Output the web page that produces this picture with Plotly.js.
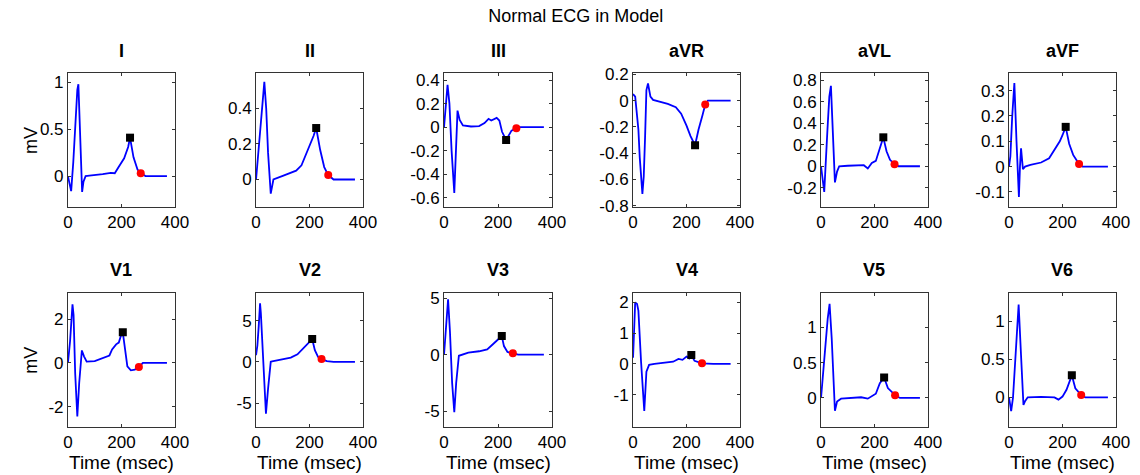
<!DOCTYPE html>
<html>
<head>
<meta charset="utf-8">
<script src="https://cdn.plot.ly/plotly-3.0.1.min.js"></script>
<style>html,body{margin:0;padding:0;background:#fff;}#chart{width:1140px;height:475px;}</style>
</head>
<body>
<div id="chart"></div>
<script>
// ---- Data (time in msec, voltage in mV) ----
const leadNames = ["I", "II", "III", "aVR", "aVL", "aVF", "V1", "V2", "V3", "V4", "V5", "V6"];

const t_I = [0, 5, 12, 20, 30, 35, 39, 45, 53, 58, 66, 80, 100, 130, 160, 175, 190, 210, 225, 232, 245, 260, 272, 290, 330, 370];
const v_I = [0, -0.08, -0.16, 0.15, 0.75, 0.92, 0.98, 0.5, -0.17, -0.06, 0, 0.005, 0.01, 0.02, 0.035, 0.03, 0.1, 0.19, 0.31, 0.41, 0.2, 0.07, 0.03, 0, 0, 0];

const t_II = [0, 10, 20, 31, 38, 45, 55, 60, 65, 100, 150, 170, 195, 215, 225, 240, 255, 270, 290, 330, 370];
const v_II = [0, 0.18, 0.37, 0.55, 0.4, 0.15, -0.08, -0.03, 0, 0.02, 0.05, 0.08, 0.166, 0.245, 0.29, 0.166, 0.07, 0.025, 0, 0, 0];

const t_III = [0, 5, 13, 20, 28, 38, 44, 50, 58, 70, 100, 130, 150, 165, 175, 195, 205, 215, 230, 250, 268, 280, 330, 370];
const v_III = [0, 0.15, 0.36, 0.2, -0.2, -0.56, -0.2, 0.14, 0.06, 0.014, 0.005, 0.008, 0.034, 0.07, 0.056, 0.078, 0.056, -0.04, -0.11, -0.03, -0.01, 0, 0, 0];

const t_aVR = [0, 8, 20, 25, 35, 40, 45, 50, 56, 65, 75, 100, 130, 160, 180, 200, 215, 232, 245, 260, 270, 280, 330, 365];
const v_aVR = [0.05, 0.03, -0.22, -0.43, -0.71, -0.58, -0.28, 0.08, 0.13, 0.03, 0.005, -0.01, -0.025, -0.05, -0.1, -0.19, -0.27, -0.34, -0.22, -0.11, -0.03, 0, 0, 0];

const t_aVL = [0, 12, 24, 31, 37, 44, 52, 60, 68, 100, 160, 175, 190, 205, 220, 233, 245, 258, 275, 290, 330, 370];
const v_aVL = [0, -0.24, 0.34, 0.65, 0.75, 0.34, -0.15, -0.05, 0, 0.005, 0.01, -0.02, 0.03, 0.05, 0.16, 0.27, 0.14, 0.06, 0.02, 0, 0, 0];

const t_aVF = [0, 5, 12, 20, 28, 37, 41, 45, 52, 60, 80, 120, 150, 175, 190, 200, 212, 225, 240, 262, 275, 320, 370];
const v_aVF = [0, 0.04, 0.2, 0.33, 0.1, -0.12, 0, 0.072, -0.01, 0, 0.007, 0.016, 0.033, 0.072, 0.1, 0.124, 0.157, 0.09, 0.046, 0.01, 0, 0, 0];

const t_V1 = [0, 8, 17, 21, 27, 35, 42, 52, 60, 70, 100, 130, 155, 165, 180, 190, 200, 205, 212, 222, 235, 250, 265, 280, 330, 370];
const v_V1 = [0, 1.0, 2.68, 2.2, -0.47, -2.45, -0.93, 0.57, 0.3, 0.06, 0.08, 0.23, 0.34, 0.62, 0.85, 0.93, 1.32, 1.4, 0.78, -0.16, -0.34, -0.31, -0.19, 0, 0, 0];

const t_V2 = [0, 5, 10, 15, 18, 25, 31, 37, 45, 55, 60, 100, 130, 155, 175, 195, 210, 220, 232, 245, 265, 290, 330, 370];
const v_V2 = [0.8, 2.0, 4.3, 7.1, 5.9, 0.8, -3.25, -6.3, -3.25, 0, 0.05, 0.3, 0.5, 0.9, 1.6, 2.36, 2.76, 1.4, 0.6, 0.33, 0.08, 0, 0, 0];

const t_V3 = [0, 5, 15, 22, 30, 38, 45, 55, 65, 90, 130, 160, 180, 200, 214, 222, 235, 255, 275, 320, 370];
const v_V3 = [0, 1.94, 4.9, 2.0, -2.5, -5.1, -2.5, -0.1, 0, 0.18, 0.3, 0.47, 0.9, 1.3, 1.65, 0.76, 0.24, 0.12, 0, 0, 0];

const t_V4 = [0, 3, 8, 15, 20, 30, 42, 50, 60, 80, 120, 150, 170, 185, 200, 210, 218, 230, 258, 300, 365];
const v_V4 = [0.2, 1.2, 2.0, 1.95, 1.73, 0.07, -1.53, -0.25, -0.03, 0, 0.05, 0.07, 0.16, 0.13, 0.24, 0.18, 0.29, 0.1, 0.02, 0, 0];

const t_V5 = [0, 5, 15, 25, 32, 40, 52, 60, 75, 100, 150, 175, 190, 205, 220, 236, 250, 277, 295, 330, 370];
const v_V5 = [0, 0.23, 0.79, 1.12, 1.33, 0.84, -0.18, -0.05, -0.01, 0, 0.01, -0.01, 0.02, 0.06, 0.21, 0.29, 0.14, 0.04, 0, 0, 0];

const t_V6 = [0, 8, 15, 25, 36, 45, 54, 60, 70, 120, 170, 185, 200, 215, 235, 248, 270, 285, 330, 370];
const v_V6 = [0, -0.18, 0, 0.55, 1.22, 0.55, -0.1, -0.05, 0, 0.005, 0, -0.03, 0.01, 0.1, 0.29, 0.12, 0.03, 0, 0, 0];

// T-wave peak (black square) and T-wave end (red dot), in lead order
const peakTime = [232, 225, 230, 232, 233, 212, 205, 210, 214, 218, 236, 235];
const peakVal  = [0.41, 0.29, -0.11, -0.34, 0.27, 0.157, 1.4, 2.76, 1.65, 0.29, 0.29, 0.29];
const endTime  = [272, 270, 268, 270, 275, 262, 265, 245, 255, 258, 277, 270];
const endVal   = [0.03, 0.025, -0.01, -0.03, 0.02, 0.01, -0.19, 0.33, 0.12, 0.02, 0.04, 0.03];

// Tick values and labels
const xTickVals = [0, 200, 400];
const xTickText = ["0", "200", "400"];
const yTickVals = [
  [0, 0.5, 1],
  [0, 0.2, 0.4],
  [-0.6, -0.4, -0.2, 0, 0.2, 0.4],
  [-0.8, -0.6, -0.4, -0.2, 0, 0.2],
  [-0.2, 0, 0.2, 0.4, 0.6, 0.8],
  [-0.1, 0, 0.1, 0.2, 0.3],
  [-2, 0, 2],
  [-5, 0, 5],
  [-5, 0, 5],
  [-1, 0, 1, 2],
  [0, 0.5, 1],
  [0, 0.5, 1]
];
const yTickText = [
  ["0", "0.5", "1"],
  ["0", "0.2", "0.4"],
  ["-0.6", "-0.4", "-0.2", "0", "0.2", "0.4"],
  ["-0.8", "-0.6", "-0.4", "-0.2", "0", "0.2"],
  ["-0.2", "0", "0.2", "0.4", "0.6", "0.8"],
  ["-0.1", "0", "0.1", "0.2", "0.3"],
  ["-2", "0", "2"],
  ["-5", "0", "5"],
  ["-5", "0", "5"],
  ["-1", "0", "1", "2"],
  ["0", "0.5", "1"],
  ["0", "0.5", "1"]
];

const times = [t_I, t_II, t_III, t_aVR, t_aVL, t_aVF, t_V1, t_V2, t_V3, t_V4, t_V5, t_V6];
const volts = [v_I, v_II, v_III, v_aVR, v_aVL, v_aVF, v_V1, v_V2, v_V3, v_V4, v_V5, v_V6];

// ---- Layout settings ----
const yRanges = [
  [-0.33, 1.1], [-0.155, 0.6], [-0.68, 0.46], [-0.81, 0.21], [-0.38, 0.87], [-0.16, 0.37],
  [-2.93, 3.22], [-7.9, 8.4], [-6.4, 5.5], [-2.05, 2.32], [-0.41, 1.49], [-0.39, 1.38]
];
const colDomains = [[0.0596, 0.1535], [0.2246, 0.3184], [0.3895, 0.4842], [0.5553, 0.6491], [0.7202, 0.8140], [0.8851, 0.9789]];
const rowDomains = [[0.5642, 0.8463], [0.1011, 0.3842]];

const FONT = "Liberation Sans, Arial, sans-serif";
const traces = [];
const layout = {
  width: 1140, height: 475,
  margin: {l: 0, r: 0, t: 0, b: 0},
  paper_bgcolor: "#fff", plot_bgcolor: "#fff",
  showlegend: false,
  font: {family: FONT, size: 17, color: "#000"},
  title: {text: "Normal ECG in Model", x: 0.505, xanchor: "center", y: 0.966, yanchor: "middle",
          font: {family: FONT, size: 18, color: "#000"}},
  annotations: []
};

for (let i = 0; i < 12; i++) {
  const row = Math.floor(i / 6), col = i % 6;
  const ax = i === 0 ? "" : String(i + 1);
  const xa = "x" + ax, ya = "y" + ax;
  traces.push({x: times[i], y: volts[i], xaxis: xa, yaxis: ya, type: "scatter", mode: "lines",
               line: {color: "#0000ff", width: 1.8}, hoverinfo: "skip"});
  traces.push({x: [peakTime[i]], y: [peakVal[i]], xaxis: xa, yaxis: ya, type: "scatter", mode: "markers",
               marker: {symbol: "square", color: "#000", size: 8}, hoverinfo: "skip"});
  traces.push({x: [endTime[i]], y: [endVal[i]], xaxis: xa, yaxis: ya, type: "scatter", mode: "markers",
               marker: {symbol: "circle", color: "#ff0000", size: 8}, hoverinfo: "skip"});
  const common = {showgrid: false, zeroline: false, showline: true, linecolor: "#333", linewidth: 1,
                  mirror: "ticks", ticks: "inside", ticklen: 3, tickcolor: "#333",
                  tickfont: {family: FONT, size: 17, color: "#000"}, fixedrange: true};
  layout["xaxis" + ax] = Object.assign({}, common, {
    domain: colDomains[col], range: [0, 400], anchor: ya,
    tickmode: "array", tickvals: xTickVals, ticktext: xTickText
  });
  layout["yaxis" + ax] = Object.assign({}, common, {
    domain: rowDomains[row], range: yRanges[i], anchor: xa,
    tickmode: "array", tickvals: yTickVals[i], ticktext: yTickText[i]
  });
  const cx = (colDomains[col][0] + colDomains[col][1]) / 2;
  layout.annotations.push({text: "<b>" + leadNames[i] + "</b>", xref: "paper", yref: "paper",
    x: cx, y: rowDomains[row][1] + 0.022, xanchor: "center", yanchor: "bottom", showarrow: false,
    font: {family: FONT, size: 18, color: "#000"}});
}
// axis labels
layout.annotations.push({text: "mV", xref: "paper", yref: "paper", x: 0.027, y: 0.705, textangle: -90,
  xanchor: "center", yanchor: "middle", showarrow: false, font: {family: FONT, size: 18, color: "#000"}});
layout.annotations.push({text: "mV", xref: "paper", yref: "paper", x: 0.027, y: 0.242, textangle: -90,
  xanchor: "center", yanchor: "middle", showarrow: false, font: {family: FONT, size: 18, color: "#000"}});
for (let c = 0; c < 6; c++) {
  const cx = (colDomains[c][0] + colDomains[c][1]) / 2;
  layout.annotations.push({text: "Time (msec)", xref: "paper", yref: "paper", x: cx, y: 0.027,
    xanchor: "center", yanchor: "middle", showarrow: false, font: {family: FONT, size: 19, color: "#000"}});
}

Plotly.newPlot("chart", traces, layout, {staticPlot: true, displayModeBar: false});
</script>
</body>
</html>
